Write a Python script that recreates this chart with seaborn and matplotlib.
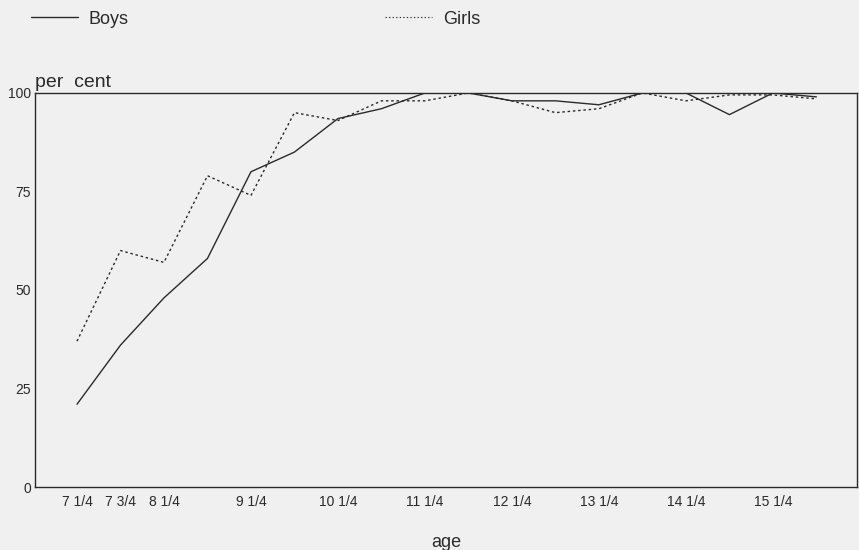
import numpy as np
import pandas as pd
import matplotlib
matplotlib.use('Agg')
import matplotlib.pyplot as plt
import seaborn as sns
from matplotlib.lines import Line2D

# ages at half-year steps
ages = [7.25, 7.75, 8.25, 8.75, 9.25, 9.75, 10.25, 10.75, 11.25, 11.75,
        12.25, 12.75, 13.25, 13.75, 14.25, 14.75, 15.25, 15.75]
boys = [21, 36, 48, 58, 80, 85, 93.5, 96, 100, 100,
        98, 98, 97, 100, 100, 94.5, 100, 99]
girls = [37, 60, 57, 79, 74, 95, 93, 98, 98, 100,
         98, 95, 96, 100, 98, 99.5, 99.5, 98.5]

label_ages = [7.25, 7.75, 8.25, 9.25, 10.25, 11.25, 12.25, 13.25, 14.25, 15.25]
label_text = ["7 1/4", "7 3/4", "8 1/4", "9 1/4", "10 1/4", "11 1/4",
              "12 1/4", "13 1/4", "14 1/4", "15 1/4"]
y_ticks = [0, 25, 50, 75, 100]

df = pd.DataFrame({
    'age': ages * 2,
    'pct': boys + girls,
    'sex': ['Boys'] * len(ages) + ['Girls'] * len(ages),
})

sns.set_style("white")
plt.rcParams['font.family'] = ['Liberation Sans', 'DejaVu Sans']
bg = '#f0f0f0'
ink = '#2a2a2a'

fig = plt.figure(figsize=(8.59, 5.5), dpi=100, facecolor=bg)
ax = fig.add_axes([0.041, 0.1145, 0.957, 0.7165], facecolor=bg)

sns.lineplot(data=df, x='age', y='pct', hue='sex', style='sex',
             palette={'Boys': ink, 'Girls': ink},
             dashes={'Boys': '', 'Girls': (1.8, 2)},
             linewidth=1.0, legend=False, ax=ax)

ax.set_xlim(6.77, 16.22)
ax.set_ylim(0, 100)
ax.set_yticks(y_ticks)
ax.set_yticklabels([str(v) for v in y_ticks], fontsize=10, color=ink)
ax.set_xticks(label_ages)
ax.set_xticklabels(label_text, fontsize=10, color=ink)
ax.set_xticks(ages, minor=True)
ax.tick_params(axis='x', which='both', direction='in', length=6, width=0.8,
               color=ink, pad=6)
ax.tick_params(axis='y', direction='in', length=8, width=0.8, color=ink, pad=3)
for s in ax.spines.values():
    s.set_color(ink)
    s.set_linewidth(1.0)

ax.set_xlabel("age", fontsize=13, color=ink, labelpad=18)
ax.set_ylabel("")
ax.text(0.0, 100.5, "per  cent", transform=ax.get_yaxis_transform(),
        fontsize=14, color=ink, ha='left', va='bottom')

handles = [Line2D([], [], color=ink, lw=1.0),
           Line2D([], [], color=ink, lw=0.8, dashes=(1.2, 2))]
fig.legend(handles, ['Boys', 'Girls'], loc='upper left',
           bbox_to_anchor=(0.017, 1.01), ncol=2, frameon=False,
           fontsize=13, handlelength=2.6, handletextpad=0.6,
           columnspacing=14.2, labelcolor=ink)

fig.savefig('out.png', dpi=100, facecolor=bg)
